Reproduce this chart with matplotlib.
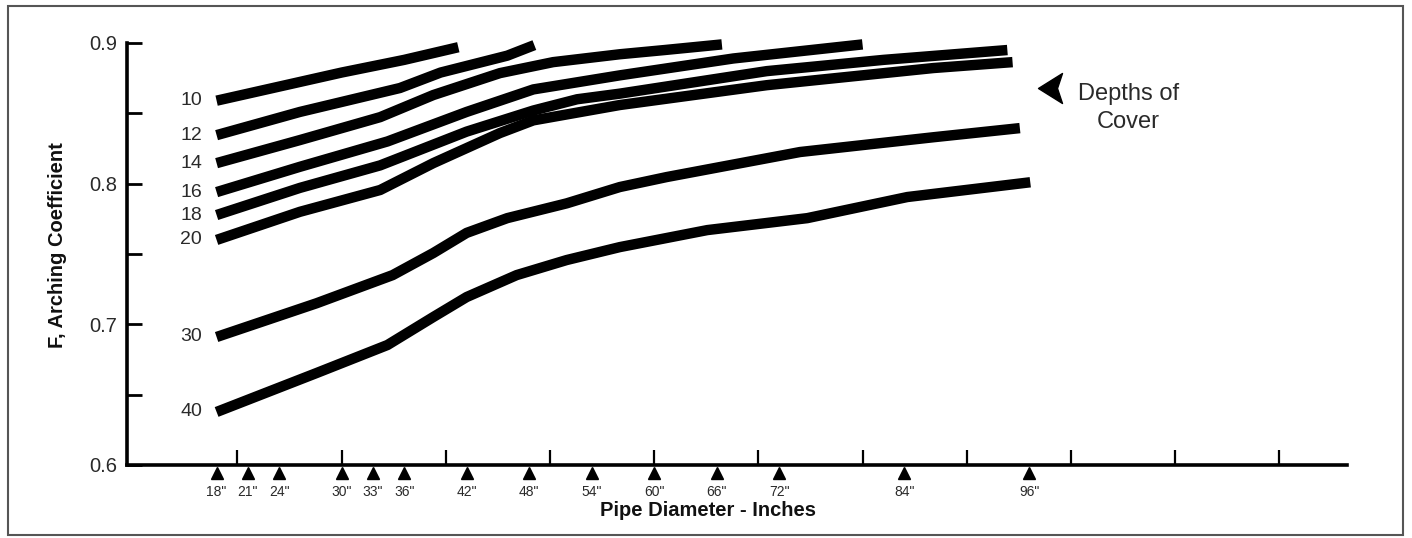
import matplotlib
matplotlib.use("Agg")
import matplotlib.pyplot as plt
from matplotlib.patches import Rectangle
from matplotlib.path import Path

plt.rcParams["font.family"] = ["Liberation Sans", "DejaVu Sans"]

# Pipe sizes marked under the x axis
pipe_diameters = [18, 21, 24, 30, 33, 36, 42, 48, 54, 60, 66, 72, 84, 96]
pipe_labels = [f'{d}"' for d in pipe_diameters]

# Depth of cover for each curve
depths = [10, 12, 14, 16, 18, 20, 30, 40]

# Curves (x = pipe diameter in inches, f = arching coefficient)
cover_10_x = [18, 24, 30, 36, 41.2]
cover_10_f = [0.859, 0.869, 0.879, 0.888, 0.897]

cover_12_x = [18, 26, 35.6, 39.5, 45.9, 48.5]
cover_12_f = [0.8345, 0.851, 0.868, 0.879, 0.891, 0.8985]

cover_14_x = [18, 26, 33.7, 38.8, 45.2, 50.3, 56.7, 61, 66.5]
cover_14_f = [0.8146, 0.831, 0.8473, 0.863, 0.8786, 0.8864, 0.892, 0.895, 0.899]

cover_16_x = [18, 26, 34.4, 42, 48.4, 56.7, 67.6, 80]
cover_16_f = [0.794, 0.812, 0.830, 0.851, 0.867, 0.877, 0.889, 0.899]

cover_18_x = [18, 26, 33.7, 42, 48.4, 52.6, 56.7, 70.8, 82, 93.9]
cover_18_f = [0.7777, 0.797, 0.813, 0.837, 0.852, 0.860, 0.864, 0.880, 0.888, 0.895]

cover_20_x = [18, 26, 33.7, 38.8, 45.2, 48.4, 56.7, 70.8, 86.8, 94.4]
cover_20_f = [0.760, 0.780, 0.7955, 0.8146, 0.836, 0.845, 0.8559, 0.870, 0.8822, 0.8864]

cover_30_x = [18, 27.6, 34.9, 38.8, 42, 45.9, 51.6, 56.7, 61.2, 74, 86.8, 95.1]
cover_30_f = [0.691, 0.715, 0.735, 0.7507, 0.765, 0.7755, 0.786, 0.7976, 0.8047, 0.8225, 0.833, 0.8395]

cover_40_x = [18, 27.6, 34.4, 38.8, 42, 46.8, 51.6, 56.7, 65.1, 74.7, 84.3, 96.1]
cover_40_f = [0.6377, 0.6654, 0.6853, 0.7052, 0.7194, 0.735, 0.7457, 0.7549, 0.767, 0.7755, 0.7905, 0.801]

curves = [
    (cover_10_x, cover_10_f),
    (cover_12_x, cover_12_f),
    (cover_14_x, cover_14_f),
    (cover_16_x, cover_16_f),
    (cover_18_x, cover_18_f),
    (cover_20_x, cover_20_f),
    (cover_30_x, cover_30_f),
    (cover_40_x, cover_40_f),
]

W, H = 1412, 538
fig = plt.figure(figsize=(W / 100, H / 100), dpi=100)
ax = fig.add_axes([127 / W, 73 / H, 1220 / W, 422 / H])

text_color = "#2a2a2a"

for depth, (xs, fs) in zip(depths, curves):
    ax.plot(xs, fs, color="black", lw=7.5, solid_capstyle="butt",
            solid_joinstyle="round", clip_on=False)
    ax.text(16.6, fs[0], str(depth), ha="right", va="center",
            fontsize=14, color=text_color)

ax.set_xlim(9.4, 126.5)
ax.set_ylim(0.6, 0.9)

for side in ["top", "right"]:
    ax.spines[side].set_visible(False)
for side in ["left", "bottom"]:
    ax.spines[side].set_linewidth(2.6)

# y axis: labelled every 0.1, plain ticks in between
ax.set_yticks([0.6, 0.7, 0.8, 0.9])
ax.set_yticklabels(["0.6", "0.7", "0.8", "0.9"])
ax.set_yticks([0.65, 0.75, 0.85], minor=True)
ax.tick_params(axis="y", which="both", direction="in", length=11, width=2,
               pad=7, labelsize=14.5, labelcolor=text_color)

# x axis: unlabelled ticks every 10 inches
ax.set_xticks(list(range(20, 121, 10)))
ax.set_xticklabels([])
ax.tick_params(axis="x", direction="in", length=11, width=1.6)

# triangle markers and labels for the pipe sizes
trans = ax.get_xaxis_transform()
ax.plot(pipe_diameters, [-0.019] * len(pipe_diameters), transform=trans,
        marker="^", ms=8, color="black", ls="none", clip_on=False)
for d, lab in zip(pipe_diameters, pipe_labels):
    ax.text(d, -0.064, lab, transform=trans, ha="center", va="center",
            fontsize=10, color=text_color)

ax.text(0.476, -0.109, "Pipe Diameter - Inches", transform=ax.transAxes,
        ha="center", va="center", fontsize=14.5, fontweight="bold", color="#111")
ax.text(-0.0566, 0.521, "F, Arching Coefficient", transform=ax.transAxes,
        rotation=90, ha="center", va="center", fontsize=14.5,
        fontweight="bold", color="#111")

# "Depths of Cover" pointer
arrow_path = Path([(-12, 0), (12, 15), (7, 0), (12, -15), (-12, 0)],
                  [Path.MOVETO, Path.LINETO, Path.LINETO, Path.LINETO, Path.CLOSEPOLY])
ax.plot([98.0], [0.868], marker=arrow_path, ms=21.6, color="black",
        ls="none", clip_on=False)
ax.text(105.5, 0.854, "Depths of\nCover", ha="center", va="center",
        fontsize=17, linespacing=1.35, color=text_color)

# outer frame
fig.add_artist(Rectangle((8 / W, 3 / H), 1395 / W, 529 / H,
                         transform=fig.transFigure, fill=False,
                         edgecolor="#555555", lw=1.5))

fig.savefig("out.png", dpi=100)
